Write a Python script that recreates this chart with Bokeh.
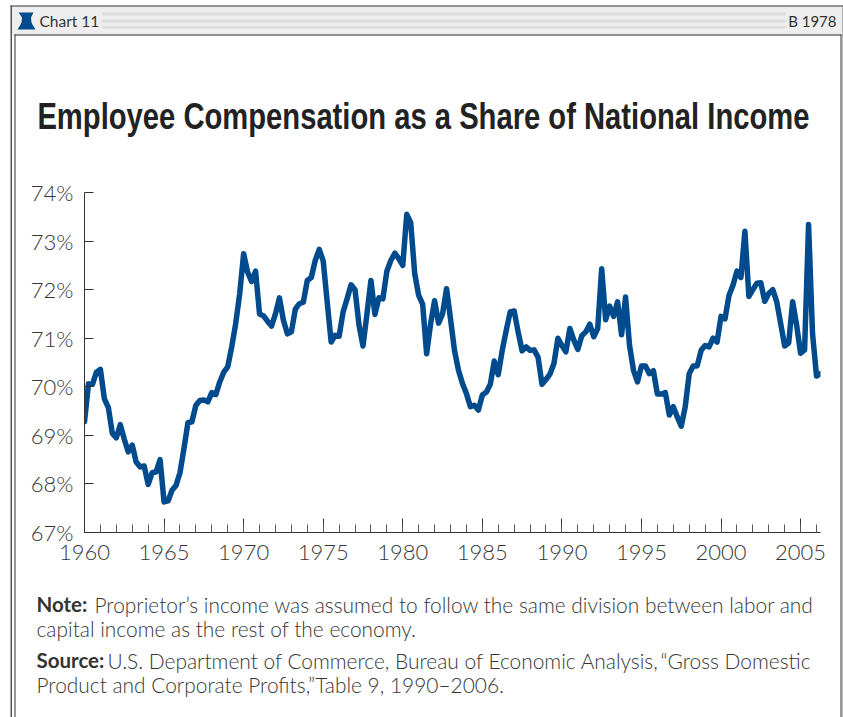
from bokeh.plotting import figure
from bokeh.embed import file_html
from bokeh.resources import INLINE
from bokeh.layouts import column
from bokeh.models import Label, BoxAnnotation, PolyAnnotation, FixedTicker, Range1d

BLUE = "#004B8D"
INK = "#363636"

start_year = 1960
values = [
 69.28,70.06,70.05,70.30, 70.36,69.75,69.57,69.04, 68.95,69.22,68.92,68.66, 68.80,68.45,68.35,68.37,
 67.99,68.23,68.25,68.50, 67.63,67.65,67.87,67.97, 68.23,68.73,69.26,69.28, 69.62,69.72,69.73,69.69,
 69.88,69.84,70.10,70.30, 70.41,70.82,71.30,71.91, 72.74,72.36,72.17,72.38, 71.50,71.46,71.35,71.25,
 71.50,71.83,71.37,71.09, 71.13,71.60,71.71,71.74, 72.19,72.25,72.60,72.83, 72.59,71.75,70.92,71.06,
 71.04,71.54,71.81,72.10, 72.00,71.27,70.84,71.50, 72.19,71.49,71.83,71.81, 72.38,72.60,72.75,72.64,
 72.50,73.55,73.38,72.33, 71.88,71.70,70.68,71.30, 71.77,71.31,71.50,72.02, 71.40,70.75,70.34,70.07,
 69.86,69.59,69.62,69.52, 69.83,69.89,70.05,70.53, 70.25,70.75,71.16,71.54, 71.56,71.13,70.74,70.82,
 70.75,70.76,70.61,70.05, 70.15,70.26,70.48,71.00, 70.85,70.72,71.20,70.96, 70.77,71.05,71.13,71.29,
 71.03,71.20,72.43,71.38, 71.66,71.45,71.75,71.07, 71.85,70.85,70.34,70.10, 70.43,70.43,70.27,70.33,
 69.85,69.85,69.88,69.42, 69.59,69.38,69.19,69.59, 70.27,70.43,70.43,70.75, 70.85,70.82,71.00,70.92,
 71.45,71.40,71.88,72.09, 72.38,72.25,73.20,71.86, 72.00,72.13,72.14,71.76, 71.92,72.00,71.75,71.30,
 70.84,70.90,71.75,71.27, 70.69,70.76,73.34,71.09, 70.22,70.27,
]
dates = [start_year + i / 4 for i in range(len(values))]
y_ticks = [67, 68, 69, 70, 71, 72, 73, 74]
x_ticks = [1960, 1965, 1970, 1975, 1980, 1985, 1990, 1995, 2000, 2005]

W, H = 843, 717
p = figure(width=W, height=H, output_backend="svg", toolbar_location=None, frame_align=False,
           x_range=Range1d(1960, 2006.25), y_range=Range1d(67, 74),
           min_border_left=84, min_border_right=23, min_border_top=192, min_border_bottom=185,
           outline_line_color=None, background_fill_color="white", border_fill_color="white")
p.grid.visible = False
p.line(dates, values, line_color=BLUE, line_width=5.5, line_join="round", line_cap="round")

ax = p.xaxis[0]
ax.ticker = FixedTicker(ticks=x_ticks, minor_ticks=list(range(1960, 2007)))
ax.major_tick_in, ax.major_tick_out = 14, 0
ax.minor_tick_in, ax.minor_tick_out = 8, 0
ax.major_label_standoff = 12
ay = p.yaxis[0]
ay.ticker = FixedTicker(ticks=y_ticks)
ay.major_tick_in, ay.major_tick_out = 9, 0
ay.minor_tick_in, ay.minor_tick_out = 0, 0
ay.major_label_standoff = 11
ay.major_label_overrides = {t: f"{t}%" for t in y_ticks}
for a in (ax, ay):
    a.major_label_text_font = "Lato Light"
    a.major_label_text_font_size = "22px"
    a.major_label_text_color = INK
    a.axis_line_color = "#333333"
    a.major_tick_line_color = "#333333"
    a.minor_tick_line_color = "#555555"

# Overlay with the page furniture: one data unit is one pixel from the top-left corner.
def overlay(w, h, **styles):
    f = figure(width=w, height=h, output_backend="svg", toolbar_location=None, frame_align=False,
               x_range=Range1d(0, w), y_range=Range1d(h, 0), x_axis_location=None, y_axis_location=None,
               min_border=0, outline_line_color=None, background_fill_color=None, border_fill_color=None,
               styles={"position": "absolute", **styles})
    f.grid.visible = False
    return f

o = overlay(W, H, left="0px", top="0px")

def box(l, r, t, b, color):
    o.add_layout(BoxAnnotation(left=l, right=r, top=t, bottom=b, fill_color=color, fill_alpha=1, line_color=None))

def text(x, y, s, font="Lato Light", size=20.9, style="normal", color=INK, align="left", fig=None):
    (fig or o).add_layout(Label(x=x, y=y - 0.4 * size, text=s, text_font=font, text_font_size=f"{size}px",
                                text_font_style=style, text_color=color, text_align=align,
                                text_baseline="alphabetic"))

box(10, 843, 5, 35, "#eeeeee")
for top, bottom in ((12, 15), (19, 22), (25.5, 28)):
    box(102, 785, top, bottom, "#dcdcdc")
box(10, 843, 5, 6, "#333333")
box(14, 841, 34, 35, "#333333")
box(10, 11.5, 5, 717, "#555555")
box(14, 15, 34, 717, "#333333")
box(840, 841, 34, 717, "#333333")
box(842, 843, 5, 717, "#777777")

o.add_layout(PolyAnnotation(xs=[18, 33, 32, 30.5, 31, 32.5, 35, 17, 19.5, 21, 21.5, 19.5],
                            ys=[12, 12, 14, 17, 22, 25, 29, 29, 25, 22, 17, 14],
                            fill_color=BLUE, fill_alpha=1, line_color=None))
text(39, 26.5, "Chart 11", font="Lato", size=15.5, color="#333333")
text(836, 26.5, "B 1978", font="Lato", size=15, align="right", color="#333333")
text(36, 612, "Note:", font="Lato", size=20.5, style="bold", color="#333333")
text(94, 612, "Proprietor\u2019s income was assumed to follow the same division between labor and")
text(36, 636, "capital income as the rest of the economy.")
text(36, 668, "Source:", font="Lato", size=20.5, style="bold", color="#333333")
text(107, 668, "U.S. Department of Commerce, Bureau of Economic Analysis,\u2009\u201cGross Domestic")
text(36, 692, "Product and Corporate Profits,\u201dTable 9, 1990\u20132006.")

# The title is set in a wide face and condensed horizontally, as no condensed bold is installed.
t = overlay(1210, 60, left="37px", top="91px", transform="scaleX(0.811)")
t.styles["transform-origin"] = "0 0"
text(0, 39, "Employee Compensation as a Share of National Income", font="Liberation Sans",
     size=36, style="bold", color="#222222", fig=t)

page = column(p, o, width=W, height=H)
open("out.html", "w").write(file_html([page, t], INLINE))
